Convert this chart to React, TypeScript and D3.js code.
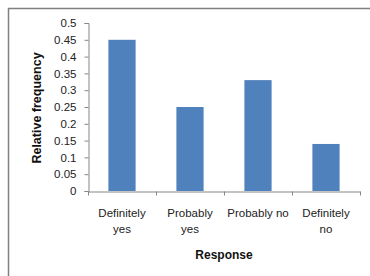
import React, { useEffect, useRef } from 'react'
import * as d3 from 'd3'

// chart data
const categories = ['Definitely yes', 'Probably yes', 'Probably no', 'Definitely no']
const categoryLines = [['Definitely', 'yes'], ['Probably', 'yes'], ['Probably no'], ['Definitely', 'no']]
const values = [0.45, 0.25, 0.33, 0.14]
const yTicks = [0, 0.05, 0.1, 0.15, 0.2, 0.25, 0.3, 0.35, 0.4, 0.45, 0.5]
const yTitle = 'Relative frequency'
const xTitle = 'Response'

const width = 370
const height = 276
const margin = { top: 23, right: 10, bottom: 85, left: 88 }
const plotRight = 360

export default function App() {
  const svgRef = useRef<SVGSVGElement>(null)

  useEffect(() => {
    document.body.style.margin = '0'
    if (!svgRef.current) return
    const svg = d3.select(svgRef.current)
    svg.selectAll('*').remove()

    const font = '"Liberation Sans", Arial, sans-serif'
    const axisColor = '#868686'

    // frame (only top and left edges visible)
    svg.append('path')
      .attr('d', `M8.5,${height} L8.5,8.5 L${width},8.5`)
      .attr('fill', 'none')
      .attr('stroke', '#808080')
      .attr('stroke-width', 1.5)

    const x = d3.scaleBand<string>()
      .domain(categories)
      .range([margin.left, plotRight])
      .paddingInner(0)
      .paddingOuter(0)

    const y = d3.scaleLinear()
      .domain([0, 0.5])
      .range([191, margin.top])

    const barWidth = x.bandwidth() * 0.4

    // bars
    svg.append('g')
      .selectAll('rect')
      .data(values)
      .enter()
      .append('rect')
      .attr('x', (_, i) => x(categories[i])! + (x.bandwidth() - barWidth) / 2)
      .attr('y', d => y(d))
      .attr('width', barWidth)
      .attr('height', d => y(0) - y(d))
      .attr('fill', '#4F81BD')

    // y axis
    const yAxis = svg.append('g')
      .attr('transform', `translate(${margin.left + 0.5},0)`)
      .call(d3.axisLeft(y)
        .tickValues(yTicks)
        .tickSize(4)
        .tickPadding(8)
        .tickFormat(d => String(d)))
    yAxis.select('.domain').attr('stroke', axisColor)
    yAxis.selectAll('.tick line').attr('stroke', axisColor)
    yAxis.selectAll('text')
      .attr('font-family', font)
      .attr('font-size', 11.5)
      .attr('fill', '#222')

    // x axis with boundary ticks
    const xAxis = svg.append('g')
      .attr('transform', `translate(0,${y(0) + 0.5})`)
      .call(d3.axisBottom(x).tickSize(0).tickFormat(() => ''))
    xAxis.select('.domain').attr('stroke', axisColor)
    const bounds = categories.map(c => x(c)!).concat([plotRight])
    xAxis.selectAll('.bound')
      .data(bounds)
      .enter()
      .append('line')
      .attr('class', 'bound')
      .attr('x1', d => Math.round(d) + 0.5)
      .attr('x2', d => Math.round(d) + 0.5)
      .attr('y1', 0)
      .attr('y2', 4)
      .attr('stroke', axisColor)

    // category labels
    const labels = svg.append('g')
    categoryLines.forEach((lines, i) => {
      const cx = x(categories[i])! + x.bandwidth() / 2
      lines.forEach((line, j) => {
        labels.append('text')
          .attr('x', cx)
          .attr('y', 217 + j * 16)
          .attr('text-anchor', 'middle')
          .attr('font-family', font)
          .attr('font-size', 11.5)
          .attr('fill', '#222')
          .text(line)
      })
    })

    // axis titles
    svg.append('text')
      .attr('transform', `translate(41,108) rotate(-90)`)
      .attr('text-anchor', 'middle')
      .attr('font-family', font)
      .attr('font-size', 12.5)
      .attr('font-weight', 'bold')
      .attr('fill', '#111')
      .text(yTitle)

    svg.append('text')
      .attr('x', 224)
      .attr('y', 259)
      .attr('text-anchor', 'middle')
      .attr('font-family', font)
      .attr('font-size', 12)
      .attr('font-weight', 'bold')
      .attr('fill', '#111')
      .text(xTitle)
  }, [])

  return (
    <svg
      ref={svgRef}
      width={width}
      height={height}
      style={{ display: 'block', background: '#fff' }}
    />
  )
}
